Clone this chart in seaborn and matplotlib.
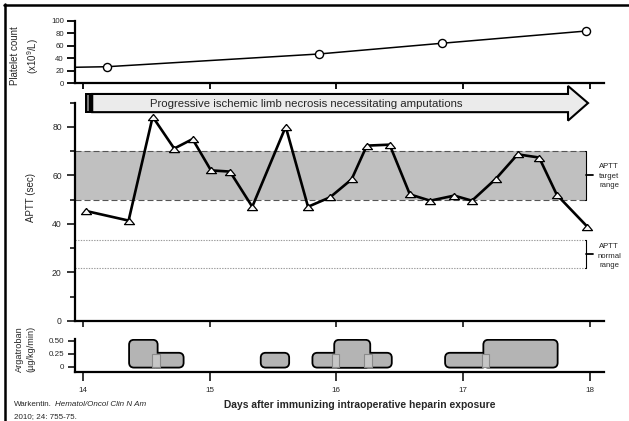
import numpy as np
import pandas as pd
import matplotlib
matplotlib.use("Agg")
import matplotlib.pyplot as plt
import seaborn as sns
from matplotlib.patches import FancyBboxPatch, Rectangle, Polygon
from matplotlib.lines import Line2D
from matplotlib.markers import MarkerStyle

# ---------------- data ----------------
platelet_days = [13.60, 14.19, 15.86, 16.83, 17.97]
platelet_vals = [24.4, 26.5, 46.8, 63.9, 83.5]
platelet_measured = [False, True, True, True, True]

aptt_days = [14.02, 14.36, 14.55, 14.72, 14.865, 15.01, 15.16, 15.336, 15.60,
             15.776, 15.95, 16.12, 16.24, 16.42, 16.58, 16.74, 16.93, 17.07,
             17.26, 17.43, 17.60, 17.74, 17.98]
aptt_vals = [45.4, 41.4, 84.2, 71.1, 75.0, 62.1, 61.6, 47.1, 80.1,
             47.1, 51.0, 58.4, 72.3, 72.7, 52.2, 49.6, 51.7, 49.6,
             58.7, 68.7, 67.4, 52.0, 38.9]

target_range = (50, 70)
normal_range = (21.7, 33.4)
range_end_day = 17.97

arg_start = [14.371, 14.545, 15.41, 15.818, 15.99, 16.865, 17.167]
arg_end = [14.582, 14.787, 15.62, 16.43, 16.26, 17.18, 17.739]
arg_dose = [0.5, 0.25, 0.25, 0.25, 0.5, 0.25, 0.5]
bag_start = [14.545, 15.963, 16.22, 17.147]
bag_end = [14.608, 16.023, 16.283, 17.207]
bag_dose = 0.25

day_ticks = [14, 15, 16, 17, 18]
arrow_text = "Progressive ischemic limb necrosis necessitating amputations"
xlabel = "Days after immunizing intraoperative heparin exposure"

# ---------------- style ----------------
sns.set_theme(style="ticks")
plt.rcParams['font.family'] = ['Liberation Sans', 'DejaVu Sans']
plt.rcParams['mathtext.fontset'] = 'custom'
plt.rcParams['mathtext.rm'] = 'Liberation Sans'
plt.rcParams['mathtext.it'] = 'Liberation Sans:italic'

W, H = 629, 421
fig = plt.figure(figsize=(W / 100, H / 100), dpi=100)


def rect(l, t, r, b):
    return [l / W, 1 - b / H, (r - l) / W, (b - t) / H]


XMIN, XMAX = 13.937, 18.112
ax_p = fig.add_axes(rect(75, 20.7, 604, 83.3))
ax_a = fig.add_axes(rect(75, 102.7, 604, 321))
ax_g = fig.add_axes(rect(75, 339, 604, 372.3))

for ax in (ax_p, ax_a, ax_g):
    ax.set_facecolor('none')
    sns.despine(ax=ax)
    for s in ('left', 'bottom'):
        ax.spines[s].set_linewidth(1.6)
        ax.spines[s].set_color('black')
    ax.set_xlim(XMIN, XMAX)
    ax.set_xticks(day_ticks)

# ---------------- platelet panel ----------------
pdf = pd.DataFrame({'day': platelet_days, 'val': platelet_vals, 'meas': platelet_measured})
sns.lineplot(data=pdf, x='day', y='val', ax=ax_p, color='black', lw=1.1, sort=False)
sns.scatterplot(data=pdf[pdf.meas], x='day', y='val', ax=ax_p, marker='o', s=34,
                facecolor='white', edgecolor='black', linewidth=1.0, zorder=5)
ax_p.set_ylim(0, 100)
ax_p.set_xlim(XMIN, XMAX)
ax_p.set_yticks(range(0, 101, 20))
ax_p.set_xticklabels([])
ax_p.tick_params(axis='y', length=6, width=1.3, labelsize=5.6, pad=2, color='black')
ax_p.tick_params(axis='x', length=4.3, width=1.3, color='black')
ax_p.set_xlabel('')
ax_p.set_ylabel('')

# ---------------- APTT panel ----------------
ax_a.fill_between([XMIN, range_end_day], target_range[0], target_range[1],
                  color='#c0c0c0', lw=0, zorder=0)
for v in target_range:
    ax_a.plot([XMIN, range_end_day], [v, v], color='#555555', lw=0.8,
              ls=(0, (5.4, 2.7)), zorder=1)
for v in normal_range:
    ax_a.plot([XMIN, range_end_day], [v, v], color='#999999', lw=0.8,
              ls=(0, (1.2, 1.2)), zorder=1)
for lo, hi in (target_range, normal_range):
    ax_a.plot([range_end_day - 0.01, range_end_day, range_end_day, range_end_day - 0.01],
              [hi, hi, lo, lo], color='black', lw=0.8, clip_on=False)
    ax_a.plot([range_end_day, range_end_day + 0.055], [(lo + hi) / 2] * 2,
              color='black', lw=1.3, clip_on=False)

tri = MarkerStyle([(0, 0.62), (-1, -0.62), (1, -0.62), (0, 0.62)])
adf = pd.DataFrame({'day': aptt_days, 'val': aptt_vals})
sns.lineplot(data=adf, x='day', y='val', ax=ax_a, color='black', lw=1.9, zorder=4)
sns.scatterplot(data=adf, x='day', y='val', ax=ax_a, marker=tri, s=52,
                facecolor='#f6f6f6', edgecolor='black', linewidth=0.9, zorder=5)
ax_a.set_ylim(0, 90)
ax_a.set_xlim(XMIN, XMAX)
ax_a.set_yticks(range(0, 81, 20))
ax_a.set_yticks(range(10, 91, 20), minor=True)
ax_a.set_xticklabels([])
ax_a.tick_params(axis='y', which='major', length=6, width=1.3, labelsize=6.2, pad=3.5)
ax_a.tick_params(axis='y', which='minor', length=3.6, width=1.3)
ax_a.tick_params(axis='x', length=4.3, width=1.3)
ax_a.set_xlabel('')
ax_a.set_ylabel('')

# arrow banner (annotation, in APTT data coordinates)
arr_x0, arr_x1, arr_tip = 14.073, 17.828, 17.986
arr_lo, arr_hi, arr_mid, head_lo, head_hi = 86.1, 93.6, 89.85, 82.6, 96.9
ax_a.add_patch(Polygon([(arr_x0, arr_lo), (arr_x1, arr_lo), (arr_x1, head_lo),
                        (arr_tip, arr_mid), (arr_x1, head_hi), (arr_x1, arr_hi),
                        (arr_x0, arr_hi)], closed=True, facecolor='#ebebeb',
                       edgecolor='black', lw=1.5, clip_on=False, zorder=6))
ax_a.add_patch(Rectangle((14.016, arr_lo - 0.3), arr_x0 - 14.016, arr_hi - arr_lo + 0.6,
                         facecolor='black', edgecolor='none', clip_on=False, zorder=7))
ax_a.add_patch(Rectangle((14.034, arr_lo + 0.3), 0.016, arr_hi - arr_lo - 0.6,
                         facecolor='#777777', edgecolor='none', clip_on=False, zorder=8))
ax_a.text(15.76, 88.4, arrow_text, ha='center', va='baseline', fontsize=8.2,
          clip_on=False, zorder=9)

# ---------------- argatroban panel ----------------
ax_g.set_ylim(-0.108, 0.533)
r_x = 4 / 126.7
aspect = 126.7 / 52.0
for x0, x1, d in zip(arg_start, arg_end, arg_dose):
    ax_g.add_patch(FancyBboxPatch((x0, 0), x1 - x0, d,
                                  boxstyle=f"round,pad=0,rounding_size={r_x}",
                                  mutation_aspect=aspect, facecolor='#b4b4b4',
                                  edgecolor='black', lw=2.6, zorder=2))
for x0, x1, d in zip(arg_start, arg_end, arg_dose):
    ax_g.add_patch(FancyBboxPatch((x0, 0), x1 - x0, d,
                                  boxstyle=f"round,pad=0,rounding_size={r_x}",
                                  mutation_aspect=aspect, facecolor='#b4b4b4',
                                  edgecolor='none', lw=0, zorder=3))
for x0, x1 in zip(bag_start, bag_end):
    ax_g.add_patch(Rectangle((x0, 0), x1 - x0, bag_dose, facecolor='#c6c6c6',
                             edgecolor='#8a8a8a', lw=0.8, zorder=4))
ax_g.set_yticks([0, 0.25, 0.5])
ax_g.set_yticklabels(['0', '0.25', '0.50'])
ax_g.set_xticklabels([str(d) for d in day_ticks])
ax_g.tick_params(axis='y', length=5, width=1.3, labelsize=5.8, pad=3)
ax_g.tick_params(axis='x', length=6.5, width=1.3, labelsize=5.8, pad=4)

# ---------------- labels ----------------
fig.text(25.5 / W, 1 - 55.7 / H, "Platelet count\n(x10$^{9}$/L)", rotation=90,
         ha='center', va='center', fontsize=7, linespacing=1.45, multialignment='center')
fig.text(31 / W, 1 - 197.5 / H, "APTT (sec)", rotation=90, ha='center', va='center',
         fontsize=7)
fig.text(25.5 / W, 1 - 349 / H, "Argatroban\n(µg/kg/min)", rotation=90, ha='center',
         va='center', fontsize=6.6, linespacing=1.3, multialignment='center')
fig.text(609 / W, 1 - 176 / H, "APTT\ntarget\nrange", ha='center', va='center',
         fontsize=5.6, linespacing=1.5)
fig.text(609 / W, 1 - 256 / H, "APTT\nnormal\nrange", ha='center', va='center',
         fontsize=5.6, linespacing=1.5)
fig.text(359.5 / W, 1 - 405 / H, xlabel, ha='center', va='center', fontsize=7.4,
         fontweight='bold')

t1 = fig.text(14 / W, 1 - 405 / H, "Warkentin.", ha='left', va='center', fontsize=5.8)
fig.canvas.draw()
bb = t1.get_window_extent()
fig.text((bb.x1 + 3) / W, 1 - 405 / H, "Hematol/Oncol Clin N Am", ha='left',
         va='center', fontsize=5.8, style='italic')
fig.text(14 / W, 1 - 416.7 / H, "2010; 24: 755-75.", ha='left', va='center', fontsize=5.8)

# frame lines
fig.add_artist(Line2D([4 / W, 1], [1 - 5 / H] * 2, transform=fig.transFigure,
                      color='black', lw=1.8))
fig.add_artist(Line2D([5 / W] * 2, [0, 1 - 4 / H], transform=fig.transFigure,
                      color='black', lw=1.8))

fig.savefig("out.png", dpi=100)
